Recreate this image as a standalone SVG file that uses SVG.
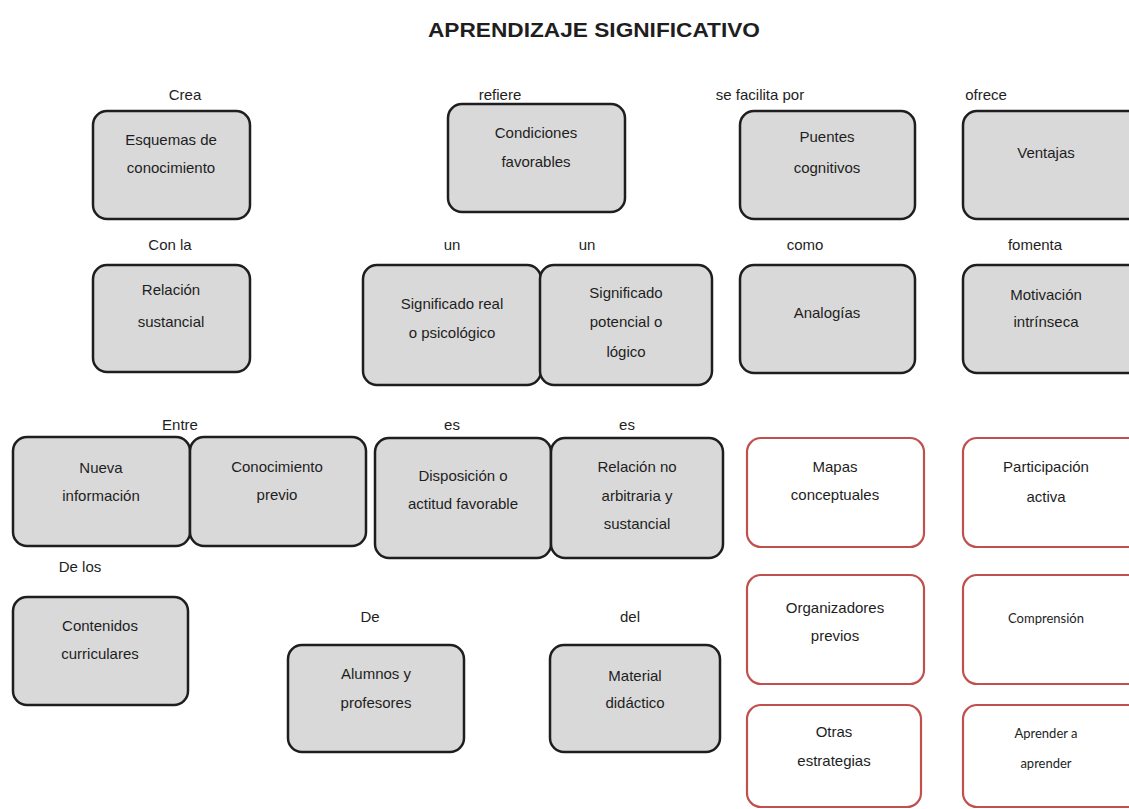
<svg xmlns="http://www.w3.org/2000/svg" width="1129" height="809" viewBox="0 0 1129 809">
<style>
.g{fill:#d9d9d9;stroke:#1e1e1e;stroke-width:2.5}
.r{fill:#ffffff;stroke:#c0504d;stroke-width:2.2}
.t{font-family:"Liberation Sans",Arial,sans-serif;font-size:15px;fill:#1e1e1e;text-anchor:middle}
.c{font-family:Lato,"Open Sans",sans-serif;font-size:13px;fill:#1e1e1e;text-anchor:middle}
.h{font-family:"Liberation Sans",Arial,sans-serif;font-size:20px;font-weight:bold;fill:#1e1e1e;text-anchor:middle}
</style>
<rect width="1129" height="809" fill="#ffffff"/>
<text class="h" x="594" y="37" textLength="332" lengthAdjust="spacingAndGlyphs">APRENDIZAJE SIGNIFICATIVO</text>
<g id="labels">
<text class="t" x="185" y="100">Crea</text>
<text class="t" x="500" y="100">refiere</text>
<text class="t" x="760" y="100">se facilita por</text>
<text class="t" x="986" y="100">ofrece</text>
<text class="t" x="170" y="250">Con la</text>
<text class="t" x="452" y="250">un</text>
<text class="t" x="587" y="250">un</text>
<text class="t" x="805" y="250">como</text>
<text class="t" x="1035" y="250">fomenta</text>
<text class="t" x="180" y="430">Entre</text>
<text class="t" x="452" y="430">es</text>
<text class="t" x="627" y="430">es</text>
<text class="t" x="80" y="572">De los</text>
<text class="t" x="370" y="622">De</text>
<text class="t" x="630" y="622">del</text>
</g>
<g id="connectors"></g>
<g id="n-esquemas"><rect class="g" x="93" y="111" width="157" height="108" rx="14"/><text class="t" x="171" y="145">Esquemas de</text><text class="t" x="171" y="173">conocimiento</text></g>
<g id="n-condiciones"><rect class="g" x="448" y="104" width="177" height="108" rx="14"/><text class="t" x="536" y="138">Condiciones</text><text class="t" x="536" y="167">favorables</text></g>
<g id="n-puentes"><rect class="g" x="740" y="111" width="175" height="108" rx="14"/><text class="t" x="827" y="142">Puentes</text><text class="t" x="827" y="173">cognitivos</text></g>
<g id="n-ventajas"><rect class="g" x="963" y="111" width="180" height="108" rx="14"/><text class="t" x="1046" y="158">Ventajas</text></g>
<g id="n-relacion"><rect class="g" x="93" y="265" width="157" height="107" rx="14"/><text class="t" x="171" y="295">Relación</text><text class="t" x="171" y="327">sustancial</text></g>
<g id="n-sigreal"><rect class="g" x="363" y="265" width="178" height="120" rx="14"/><text class="t" x="452" y="309">Significado real</text><text class="t" x="452" y="338">o psicológico</text></g>
<g id="n-sigpot"><rect class="g" x="540" y="265" width="172" height="120" rx="14"/><text class="t" x="626" y="298">Significado</text><text class="t" x="626" y="327">potencial o</text><text class="t" x="626" y="357">lógico</text></g>
<g id="n-analogias"><rect class="g" x="740" y="265" width="175" height="108" rx="14"/><text class="t" x="827" y="318">Analogías</text></g>
<g id="n-motivacion"><rect class="g" x="963" y="265" width="180" height="108" rx="14"/><text class="t" x="1046" y="300">Motivación</text><text class="t" x="1046" y="327">intrínseca</text></g>
<g id="n-nueva"><rect class="g" x="13" y="437" width="177" height="109" rx="14"/><text class="t" x="101" y="473">Nueva</text><text class="t" x="101" y="501">información</text></g>
<g id="n-conprevio"><rect class="g" x="190" y="437" width="176" height="109" rx="14"/><text class="t" x="277" y="472">Conocimiento</text><text class="t" x="277" y="500">previo</text></g>
<g id="n-disposicion"><rect class="g" x="375" y="438" width="176" height="120" rx="14"/><text class="t" x="463" y="481">Disposición o</text><text class="t" x="463" y="509">actitud favorable</text></g>
<g id="n-relno"><rect class="g" x="551" y="438" width="172" height="120" rx="14"/><text class="t" x="637" y="472">Relación no</text><text class="t" x="637" y="501">arbitraria y</text><text class="t" x="637" y="529">sustancial</text></g>
<g id="n-mapas"><rect class="r" x="747" y="438" width="177" height="109" rx="14"/><text class="t" x="835" y="472">Mapas</text><text class="t" x="835" y="500">conceptuales</text></g>
<g id="n-participacion"><rect class="r" x="963" y="438" width="180" height="109" rx="14"/><text class="t" x="1046" y="472">Participación</text><text class="t" x="1046" y="502">activa</text></g>
<g id="n-contenidos"><rect class="g" x="13" y="597" width="175" height="108" rx="14"/><text class="t" x="100" y="631">Contenidos</text><text class="t" x="100" y="659">curriculares</text></g>
<g id="n-alumnos"><rect class="g" x="288" y="645" width="176" height="107" rx="14"/><text class="t" x="376" y="679">Alumnos y</text><text class="t" x="376" y="708">profesores</text></g>
<g id="n-material"><rect class="g" x="550" y="645" width="170" height="107" rx="14"/><text class="t" x="635" y="681">Material</text><text class="t" x="635" y="708">didáctico</text></g>
<g id="n-organizadores"><rect class="r" x="747" y="575" width="177" height="109" rx="14"/><text class="t" x="835" y="613">Organizadores</text><text class="t" x="835" y="641">previos</text></g>
<g id="n-comprension"><rect class="r" x="963" y="575" width="180" height="109" rx="14"/><text class="c" x="1046" y="623">Comprensión</text></g>
<g id="n-otras"><rect class="r" x="747" y="705" width="174" height="102" rx="14"/><text class="t" x="834" y="737">Otras</text><text class="t" x="834" y="766">estrategias</text></g>
<g id="n-aprender"><rect class="r" x="963" y="705" width="180" height="102" rx="14"/><text class="c" x="1046" y="738">Aprender a</text><text class="c" x="1046" y="768">aprender</text></g>
</svg>
